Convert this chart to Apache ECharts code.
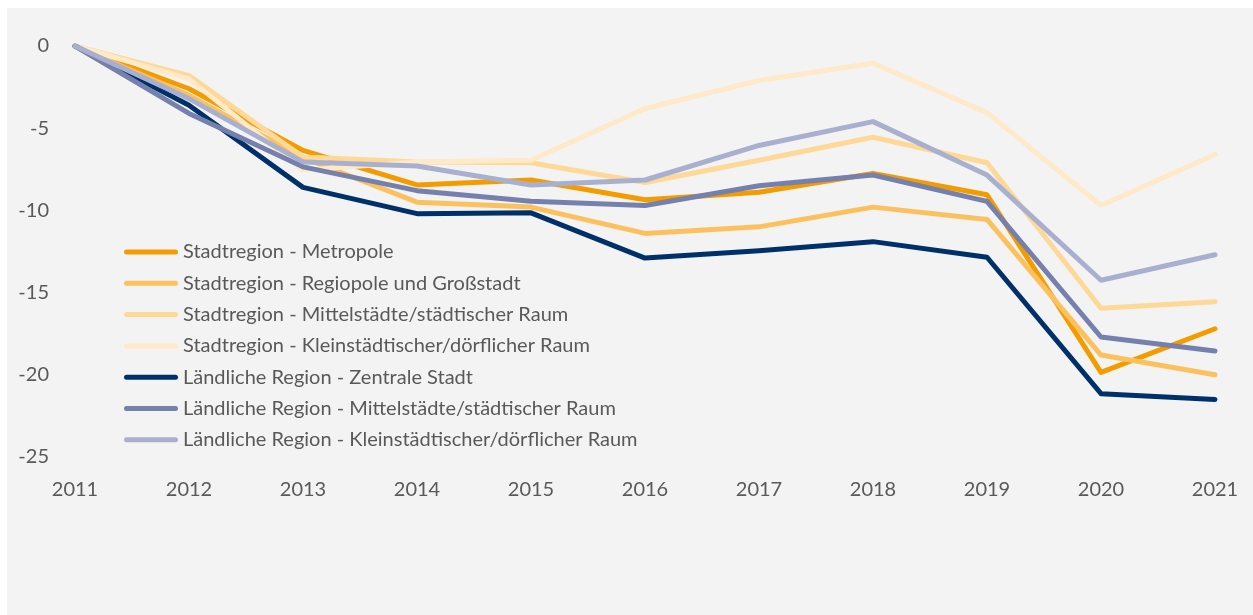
<!DOCTYPE html>
<html>
<head>
<meta charset="utf-8">
<script src="https://cdn.jsdelivr.net/npm/echarts@6/dist/echarts.min.js"></script>
<style>
  html, body { margin:0; padding:0; background:#ffffff; width:1253px; height:615px; overflow:hidden; }
  #bg { position:absolute; left:7px; top:8px; width:1246px; height:607px; background:#f3f3f3; }
  #chart { position:absolute; left:0; top:0; width:1253px; height:615px; }
</style>
</head>
<body>
<div id="bg"></div>
<div id="chart"></div>
<script>
const years = ['2011','2012','2013','2014','2015','2016','2017','2018','2019','2020','2021'];
const seriesNames = [
  'Stadtregion - Metropole',
  'Stadtregion - Regiopole und Großstadt',
  'Stadtregion - Mittelstädte/städtischer Raum',
  'Stadtregion - Kleinstädtischer/dörflicher Raum',
  'Ländliche Region - Zentrale Stadt',
  'Ländliche Region - Mittelstädte/städtischer Raum',
  'Ländliche Region - Kleinstädtischer/dörflicher Raum'
];
const metropole  = [0, -2.6, -6.35, -8.45, -8.15, -9.35, -8.9, -7.75, -9.05, -19.85, -17.2];
const regiopole  = [0, -3.0, -6.8, -9.5, -9.8, -11.4, -11.0, -9.8, -10.55, -18.8, -20.0];
const stadtMittel = [0, -1.8, -6.75, -7.05, -7.1, -8.3, -6.95, -5.55, -7.1, -15.95, -15.55];
const stadtKlein = [0, -2.0, -7.55, -7.05, -6.95, -3.8, -2.1, -1.05, -4.05, -9.7, -6.6];
const landZentral = [0, -3.6, -8.6, -10.2, -10.15, -12.9, -12.45, -11.9, -12.85, -21.15, -21.5];
const landMittel = [0, -4.1, -7.35, -8.8, -9.45, -9.7, -8.5, -7.85, -9.45, -17.7, -18.55];
const landKlein  = [0, -3.2, -7.05, -7.3, -8.45, -8.15, -6.05, -4.6, -7.85, -14.25, -12.7];
const yTicks = { min: -25, max: 0, interval: 5 };

const allData = [metropole, regiopole, stadtMittel, stadtKlein, landZentral, landMittel, landKlein];
const colors = ['#f39c00', '#fbc15e', '#fdd896', '#fee9c8', '#00306a', '#7580ad', '#a9b0cf'];

const font = 'Lato, "Open Sans", sans-serif';
const textColor = '#595959';

const chart = echarts.init(document.getElementById('chart'), null, { renderer: 'canvas' });
chart.setOption({
  animation: false,
  backgroundColor: 'transparent',
  color: colors,
  grid: { left: 75, right: 38, top: 46, bottom: 158, containLabel: false },
  legend: {
    orient: 'vertical',
    left: 124,
    top: 242,
    padding: 0,
    itemWidth: 54,
    itemHeight: 5,
    itemGap: 11.3,
    icon: 'path://M2.5,0 L51.5,0 A2.5,2.5 0 0 1 51.5,5 L2.5,5 A2.5,2.5 0 0 1 2.5,0 Z',
    data: seriesNames,
    textStyle: { color: textColor, fontFamily: font, fontSize: 20, lineHeight: 20, padding: [0,0,0,0] }
  },
  xAxis: {
    type: 'category',
    data: years,
    boundaryGap: false,
    axisLine: { show: false },
    axisTick: { show: false },
    splitLine: { show: false },
    axisLabel: { color: textColor, fontFamily: font, fontSize: 20, margin: 23 }
  },
  yAxis: {
    type: 'value',
    min: yTicks.min,
    max: yTicks.max,
    interval: yTicks.interval,
    axisLine: { show: false },
    axisTick: { show: false },
    splitLine: { show: false },
    axisLabel: { color: textColor, fontFamily: font, fontSize: 20, margin: 26 }
  },
  series: seriesNames.map((name, i) => ({
    name: name,
    type: 'line',
    data: allData[i],
    symbol: 'none',
    smooth: false,
    lineStyle: { width: 5, color: colors[i], cap: 'round', join: 'round' },
    itemStyle: { color: colors[i] },
    emphasis: { disabled: true }
  }))
});
</script>
</body>
</html>
